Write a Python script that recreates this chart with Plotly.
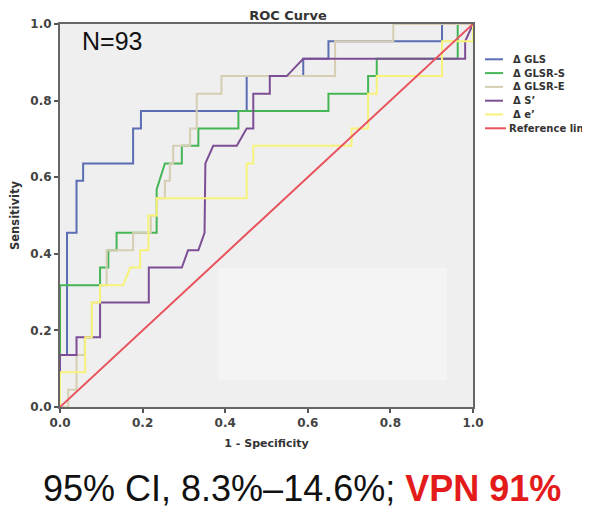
import plotly.graph_objects as go

# ---------------- data ----------------
series_names = ["Δ GLS", "Δ GLSR-S", "Δ GLSR-E", "Δ S’", "Δ e’", "Reference line"]

gls_fpr = [0, 0, 0.017, 0.017, 0.04, 0.04, 0.056, 0.056, 0.177, 0.177, 0.196, 0.196,
           0.452, 0.452, 0.589, 0.589, 0.65, 0.65, 0.925, 0.925, 1]
gls_tpr = [0, 0.136, 0.136, 0.455, 0.455, 0.591, 0.591, 0.636, 0.636, 0.727, 0.727, 0.773,
           0.773, 0.864, 0.864, 0.909, 0.909, 0.955, 0.955, 1, 1]

glsrs_fpr = [0, 0, 0.097, 0.097, 0.117, 0.117, 0.137, 0.137, 0.234, 0.234, 0.254, 0.295,
             0.295, 0.335, 0.335, 0.432, 0.432, 0.65, 0.65, 0.746, 0.746, 0.767, 0.767,
             0.963, 0.963, 1]
glsrs_tpr = [0, 0.318, 0.318, 0.364, 0.364, 0.409, 0.409, 0.455, 0.455, 0.568, 0.636, 0.636,
             0.682, 0.682, 0.727, 0.727, 0.773, 0.773, 0.818, 0.818, 0.864, 0.864, 0.909,
             0.909, 1, 1]

glsre_fpr = [0, 0.02, 0.02, 0.04, 0.04, 0.06, 0.06, 0.077, 0.077, 0.097, 0.097, 0.113,
             0.113, 0.177, 0.177, 0.22, 0.22, 0.234, 0.234, 0.254, 0.254, 0.266, 0.266,
             0.274, 0.274, 0.315, 0.315, 0.331, 0.331, 0.391, 0.391, 0.666, 0.666, 0.807,
             0.807, 1]
glsre_tpr = [0, 0, 0.045, 0.045, 0.136, 0.136, 0.182, 0.182, 0.273, 0.273, 0.318, 0.318,
             0.409, 0.409, 0.455, 0.455, 0.5, 0.5, 0.545, 0.545, 0.591, 0.591, 0.636,
             0.636, 0.682, 0.682, 0.727, 0.727, 0.818, 0.818, 0.864, 0.864, 0.955, 0.955,
             1, 1]

s_fpr = [0, 0, 0.04, 0.04, 0.097, 0.097, 0.215, 0.215, 0.295, 0.31, 0.335, 0.35, 0.352,
         0.371, 0.428, 0.452, 0.468, 0.468, 0.508, 0.508, 0.549, 0.589, 0.981, 0.981, 1]
s_tpr = [0, 0.136, 0.136, 0.182, 0.182, 0.273, 0.273, 0.364, 0.364, 0.409, 0.409, 0.455,
         0.636, 0.682, 0.682, 0.727, 0.727, 0.818, 0.818, 0.864, 0.864, 0.909, 0.909,
         0.955, 1]

e_fpr = [0, 0, 0.061, 0.061, 0.077, 0.077, 0.097, 0.097, 0.153, 0.17, 0.194, 0.194,
         0.214, 0.214, 0.234, 0.234, 0.452, 0.452, 0.468, 0.468, 0.706, 0.706, 0.746,
         0.746, 0.767, 0.767, 0.925, 0.925, 1, 1]
e_tpr = [0, 0.091, 0.091, 0.182, 0.182, 0.273, 0.273, 0.318, 0.318, 0.364, 0.364, 0.409,
         0.409, 0.5, 0.5, 0.545, 0.545, 0.636, 0.636, 0.682, 0.682, 0.727, 0.727, 0.818,
         0.818, 0.864, 0.864, 0.955, 0.955, 1]

ref_fpr = [0, 1]
ref_tpr = [0, 1]

tick_vals = [0.0, 0.2, 0.4, 0.6, 0.8, 1.0]
tick_text = ["0.0", "0.2", "0.4", "0.6", "0.8", "1.0"]

colors = ["#5b6db3", "#45b556", "#d5ceb2", "#7d4e95", "#f7f27a", "#e8535e"]

# ---------------- figure ----------------
# the page body has an 8px margin, so the figure is drawn 8px smaller and offset
PAGE_OFF = 8
W, H = 590 - PAGE_OFF, 531 - PAGE_OFF
PL, PT, PR, PB = 60, 24, 473, 407           # plot area in page pixels
L, T = PL - PAGE_OFF, PT - PAGE_OFF
pw, ph = PR - PL, PB - PT
R, B = W - L - pw, H - T - ph

def px_x(p):  # page pixel x -> paper x
    return (p - PL) / pw

def px_y(p):  # page pixel y -> paper y
    return (PB - p) / ph

fig = go.Figure()
curves = [(gls_fpr, gls_tpr), (glsrs_fpr, glsrs_tpr), (glsre_fpr, glsre_tpr),
          (s_fpr, s_tpr), (e_fpr, e_tpr), (ref_fpr, ref_tpr)]
for (xs, ys), name, col in zip(curves, series_names, colors):
    fig.add_trace(go.Scatter(x=xs, y=ys, mode="lines", name=name,
                             line=dict(color=col, width=2), hoverinfo="skip"))

axis_common = dict(range=[0, 1], tickvals=tick_vals, ticktext=tick_text,
                   ticks="outside", ticklen=4, tickwidth=1.5, tickcolor="#555",
                   showline=True, linecolor="#666", linewidth=2, mirror=True,
                   showgrid=False, zeroline=False, automargin=False,
                   tickfont=dict(family="DejaVu Sans", size=12, color="#444", weight="bold"))

fig.update_layout(
    width=W, height=H,
    margin=dict(l=L, r=R, t=T, b=B, autoexpand=False),
    paper_bgcolor="white", plot_bgcolor="#efefef",
    showlegend=False,
    font=dict(family="DejaVu Sans", color="#333"),
    title=dict(text="<b>ROC Curve</b>", x=(288 - PAGE_OFF) / W, xanchor="center",
               y=1 - 3 / H, yanchor="top", pad=dict(t=0, b=0),
               font=dict(family="DejaVu Sans", size=13, color="#333")),
    xaxis=dict(**axis_common,
               title=dict(text="<b>1 - Specificity</b>", standoff=10,
                          font=dict(family="DejaVu Sans", size=11, color="#333"))),
    yaxis=dict(**axis_common,
               title=dict(text="<b>Sensitivity</b>", standoff=14,
                          font=dict(family="DejaVu Sans", size=11.5, color="#333"))),
)

shapes = []
# faint lighter patch inside the plot area
shapes.append(dict(type="rect", xref="x", yref="y", x0=0.383, x1=0.937, y0=0.07, y1=0.363,
                   fillcolor="#f4f4f4", line=dict(width=0), layer="below"))

annotations = []
# manual legend
leg_y0, leg_dy = 59.3, 13.8
for i, (name, col) in enumerate(zip(series_names, colors)):
    yp = px_y(leg_y0 + leg_dy * i)
    x_end = 506 if i == 5 else 503
    tx = 507 if i == 5 else 511
    shapes.append(dict(type="line", xref="paper", yref="paper", x0=px_x(485), x1=px_x(x_end),
                       y0=yp, y1=yp, line=dict(color=col, width=2)))
    annotations.append(dict(text="<b>%s</b>" % name, xref="paper", yref="paper",
                            x=px_x(tx), y=yp, xanchor="left", yanchor="middle",
                            showarrow=False,
                            font=dict(family="DejaVu Sans", size=10, color="#333")))

annotations.append(dict(text="N=93", xref="paper", yref="paper", x=px_x(80), y=px_y(41),
                        xanchor="left", yanchor="middle", showarrow=False,
                        font=dict(family="Liberation Sans", size=25, color="#111")))
annotations.append(dict(text="95% CI, 8.3%–14.6%; <span style='color:#e31b1b'><b>VPN 91%</b></span>",
                        xref="paper", yref="paper", x=px_x(302), y=px_y(488),
                        xanchor="center", yanchor="middle", showarrow=False,
                        font=dict(family="Liberation Sans", size=36, color="#111")))

fig.update_layout(shapes=shapes, annotations=annotations)

fig.write_html("out.html")
